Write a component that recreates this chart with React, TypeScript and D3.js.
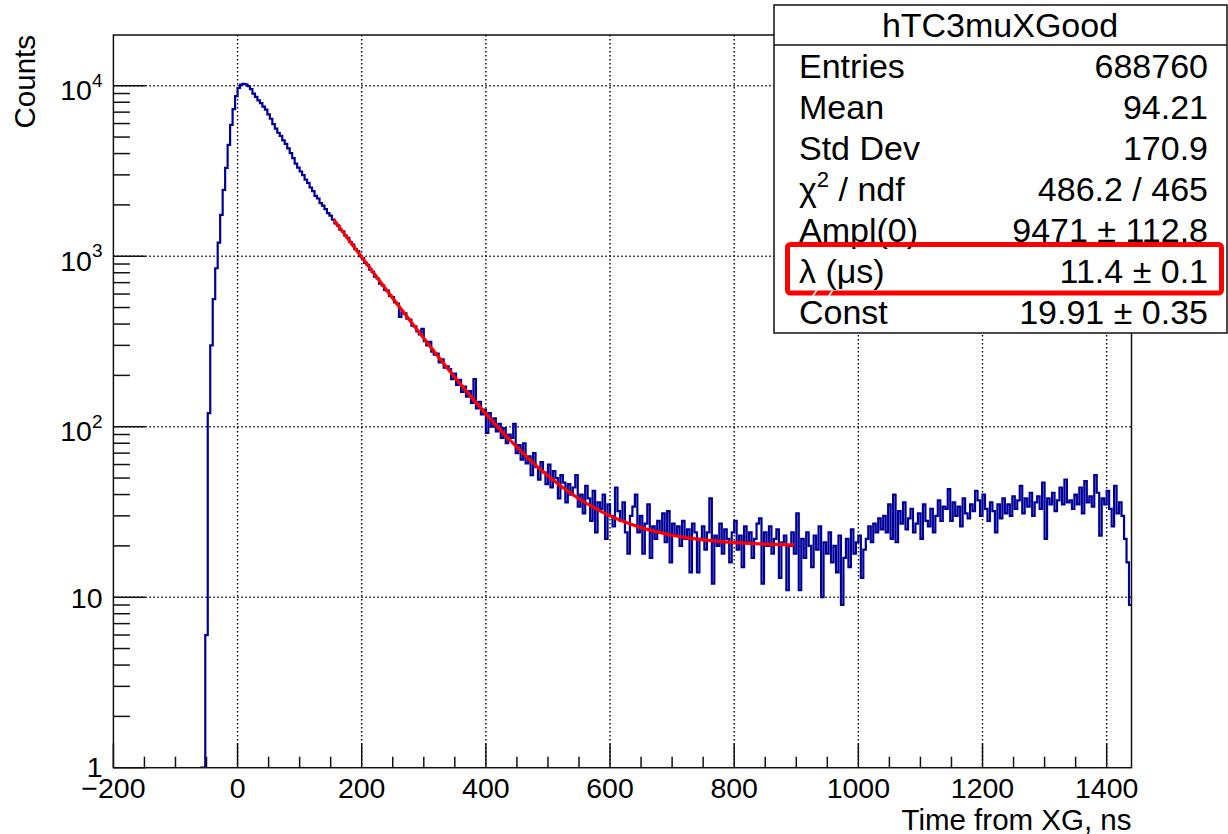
import * as d3 from "d3";
import { useEffect, useRef } from "react";

// histogram: 4 ns bins starting at -60 ns
const binStart = -60;
const binWidth = 4;
const counts = [
    0, 1, 6, 120, 300, 560, 850, 1200, 1750, 2450, 3300, 4500, 5900, 7300, 8700, 9700, 10150, 10250, 10200, 9950, 9550, 9000, 8600, 8200, 7900,
    7550, 7250, 6800, 6400, 5950, 5600, 5300, 5080, 4780, 4560, 4290, 4020, 3760, 3490, 3310, 3140, 2990, 2810, 2690, 2530, 2410, 2260, 2180, 2050, 1980,
    1890, 1790, 1730, 1640, 1560, 1510, 1430, 1400, 1320, 1280, 1210, 1170, 1100, 1070, 1000, 975, 915, 890, 835, 810, 760, 740, 690, 675, 635,
    628, 585, 575, 536, 528, 440, 468, 462, 430, 425, 392, 388, 362, 348, 375, 318, 300, 315, 276, 265, 268, 238, 248, 222, 226,
    218, 190, 205, 176, 188, 160, 172, 150, 162, 138, 190, 128, 140, 118, 126, 92, 120, 100, 112, 94, 104, 86, 98, 80, 90,
    86, 104, 70, 78, 64, 80, 61, 67, 52, 70, 58, 49, 62, 54, 46, 60, 44, 55, 50, 38, 52, 47, 36, 46, 40,
    44, 52, 34, 40, 31, 45, 38, 28, 42, 24, 36, 33, 40, 22, 35, 30, 26, 44, 32, 28, 36, 24, 18, 30, 34,
    40, 24, 30, 18, 27, 35, 17, 26, 22, 28, 24, 31, 21, 32, 16, 27, 23, 26, 20, 28, 22, 25, 14, 27, 24,
    14, 22, 26, 19, 24, 38, 12, 23, 20, 27, 18, 25, 22, 16, 24, 28, 19, 23, 15, 26, 21, 24, 17, 22, 27,
    29, 12, 24, 20, 26, 18, 22, 25, 13, 21, 23, 11, 20, 24, 18, 31, 11, 22, 17, 24, 20, 15, 23, 19, 26,
    10, 21, 18, 24, 16, 20, 14, 23, 9, 17, 22, 15, 25, 18, 21, 23, 13, 19, 22, 26, 21, 27, 24, 29, 25,
    30, 24, 35, 22, 40, 21, 32, 27, 36, 25, 29, 33, 24, 27, 31, 22, 35, 28, 26, 33, 24, 30, 37, 28, 34,
    33, 43, 28, 36, 30, 34, 26, 38, 31, 29, 35, 32, 42, 37, 30, 40, 33, 28, 36, 32, 24, 35, 29, 38, 31,
    35, 30, 39, 33, 37, 45, 31, 38, 34, 41, 30, 36, 39, 33, 47, 22, 38, 35, 41, 32, 37, 44, 35, 49, 36,
    37, 33, 40, 35, 44, 31, 48, 36, 39, 34, 52, 41, 23, 38, 35, 42, 33, 26, 45, 31, 36, 30, 22, 16, 9
];

// fit curve
const fitX = [155, 175, 200, 225, 250, 275, 300, 325, 350, 375, 400, 425, 450, 475, 500, 525, 550, 575, 600, 625, 650, 675, 700, 725, 750, 775, 800, 825, 850, 875, 897];
const fitY = [1638, 1308, 988, 748, 567, 432, 330, 253, 195, 152, 119, 94.3, 76, 62, 51.6, 43.7, 37.8, 33.4, 30, 27.5, 25.6, 24.2, 23.1, 22.3, 21.7, 21.3, 20.95, 20.7, 20.5, 20.35, 20.25];

const xMajorTicks = [-200, 0, 200, 400, 600, 800, 1000, 1200, 1400];
const yMajorTicks = [1, 10, 100, 1000, 10000];

const statsTitle = "hTC3muXGood";
const statsLabels = ["Entries", "Mean", "Std Dev", "χ2 / ndf", "Ampl(0)", "λ (μs)", "Const"];
const statsValues = ["688760", "94.21", "170.9", "486.2 / 465", "9471 ± 112.8", "11.4 ± 0.1", "19.91 ± 0.35"];

const FONT = "'Liberation Sans', Arial, Helvetica, sans-serif";

const App = () => {
    const chartRef = useRef(null);

    const width = 1228;
    const height = 834;
    const frame = { left: 113.4, right: 1131.5, top: 35, bottom: 767.7 };

    useEffect(() => {
        const svg = d3.select(chartRef.current);
        svg.selectAll("*").remove();

        const x = d3.scaleLinear().domain([-200, 1440]).range([frame.left, frame.right]);
        const y = d3.scaleLog().domain([1, 19840]).range([frame.bottom, frame.top]);

        svg.append("rect").attr("width", width).attr("height", height).attr("fill", "white");

        svg.append("defs").append("clipPath").attr("id", "frameClip")
            .append("rect")
            .attr("x", frame.left).attr("y", frame.top)
            .attr("width", frame.right - frame.left).attr("height", frame.bottom - frame.top);

        // grid
        const grid = svg.append("g")
            .attr("stroke", "#000")
            .attr("stroke-width", 1.4)
            .attr("stroke-dasharray", "1.4,2.6");
        xMajorTicks.filter(v => v > -200).forEach(v => {
            grid.append("line").attr("x1", x(v)).attr("x2", x(v)).attr("y1", frame.top).attr("y2", frame.bottom);
        });
        yMajorTicks.filter(v => v > 1).forEach(v => {
            grid.append("line").attr("x1", frame.left).attr("x2", frame.right).attr("y1", y(v)).attr("y2", y(v));
        });

        // histogram
        const pts = counts.map((c, i) => [binStart + i * binWidth, Math.max(c, 1)]);
        pts.push([binStart + counts.length * binWidth, Math.max(counts[counts.length - 1], 1)]);
        const histLine = d3.line()
            .x(d => x(d[0]))
            .y(d => y(d[1]))
            .curve(d3.curveStepAfter);
        svg.append("path")
            .attr("clip-path", "url(#frameClip)")
            .attr("d", histLine(pts))
            .attr("fill", "none")
            .attr("stroke", "#000099")
            .attr("stroke-width", 2.2);

        // fit
        const fitLine = d3.line()
            .x(d => x(d[0]))
            .y(d => y(d[1]))
            .curve(d3.curveMonotoneX);
        svg.append("path")
            .attr("clip-path", "url(#frameClip)")
            .attr("d", fitLine(fitX.map((v, i) => [v, fitY[i]])))
            .attr("fill", "none")
            .attr("stroke", "#ff0000")
            .attr("stroke-width", 3.2);

        // frame and ticks
        const axes = svg.append("g").attr("stroke", "#111").attr("stroke-width", 1.5);
        axes.append("rect")
            .attr("x", frame.left).attr("y", frame.top)
            .attr("width", frame.right - frame.left).attr("height", frame.bottom - frame.top)
            .attr("fill", "none");

        d3.range(-200, 1441, 50).forEach(v => {
            const major = v % 200 === 0;
            axes.append("line")
                .attr("x1", x(v)).attr("x2", x(v))
                .attr("y1", frame.bottom).attr("y2", frame.bottom - (major ? 24 : 11));
        });
        yMajorTicks.forEach(d => {
            axes.append("line")
                .attr("x1", frame.left).attr("x2", frame.left + 32)
                .attr("y1", y(d)).attr("y2", y(d));
            for (let k = 2; k <= 9; k++) {
                if (d * k > 19840) break;
                axes.append("line")
                    .attr("x1", frame.left).attr("x2", frame.left + 16.5)
                    .attr("y1", y(d * k)).attr("y2", y(d * k));
            }
        });

        // tick labels
        xMajorTicks.forEach(v => {
            svg.append("text")
                .attr("x", x(v)).attr("y", 798)
                .attr("text-anchor", "middle")
                .style("font-family", FONT).style("font-size", "28.5px")
                .text(v < 0 ? "\u2212" + Math.abs(v) : String(v));
        });
        yMajorTicks.forEach(v => {
            const exp = Math.round(Math.log10(v));
            const t = svg.append("text")
                .attr("x", 102.5)
                .attr("text-anchor", "end")
                .style("font-family", FONT).style("font-size", "28.5px");
            if (exp <= 1) {
                t.attr("y", y(v) + (exp === 0 ? 9 : 10.5)).text(String(v));
            } else {
                t.attr("y", y(v) + 14.5);
                t.append("tspan").text("10");
                t.append("tspan").attr("dy", -13.5).style("font-size", "19px").text(String(exp));
            }
        });

        // axis titles
        svg.append("text")
            .attr("x", frame.right).attr("y", 830)
            .attr("text-anchor", "end")
            .style("font-family", FONT).style("font-size", "29.5px")
            .text("Time from XG, ns");
        svg.append("text")
            .attr("transform", `translate(35, ${frame.top}) rotate(-90)`)
            .attr("text-anchor", "end")
            .style("font-family", FONT).style("font-size", "29.5px")
            .text("Counts");

        // stats box
        const box = { left: 774, top: 5, right: 1227, bottom: 333 };
        const stats = svg.append("g");
        stats.append("rect")
            .attr("x", box.left).attr("y", box.top)
            .attr("width", box.right - box.left).attr("height", box.bottom - box.top)
            .attr("fill", "white").attr("stroke", "#111").attr("stroke-width", 1.5);
        stats.append("line")
            .attr("x1", box.left).attr("x2", box.right)
            .attr("y1", 45).attr("y2", 45)
            .attr("stroke", "#111").attr("stroke-width", 1.5);
        stats.append("text")
            .attr("x", (box.left + box.right) / 2 - 0.5).attr("y", 37)
            .attr("text-anchor", "middle")
            .style("font-family", FONT).style("font-size", "34px")
            .text(statsTitle);

        const rowH = (box.bottom - 45) / statsLabels.length;
        statsLabels.forEach((label, i) => {
            const base = 45 + rowH * (i + 0.5) + 12;
            const lt = stats.append("text")
                .attr("x", 799).attr("y", base)
                .style("font-family", FONT).style("font-size", "34px");
            if (label.startsWith("χ2")) {
                lt.append("tspan").text("χ");
                lt.append("tspan").attr("dy", -14).style("font-size", "22px").text("2");
                lt.append("tspan").attr("dy", 14).text(" / ndf");
            } else {
                lt.text(label);
            }
            stats.append("text")
                .attr("x", 1208).attr("y", base)
                .attr("text-anchor", "end")
                .style("font-family", FONT).style("font-size", "34px")
                .text(statsValues[i]);
        });

        // highlight around the lambda row
        svg.append("rect")
            .attr("x", 787.5).attr("y", 244.5)
            .attr("width", 434).attr("height", 48.5)
            .attr("rx", 3)
            .attr("fill", "none")
            .attr("stroke", "#ff0000")
            .attr("stroke-width", 5);
        [[812, 297, 817, 290], [828, 297, 833, 290]].forEach(s => {
            svg.append("line")
                .attr("x1", s[0]).attr("y1", s[1]).attr("x2", s[2]).attr("y2", s[3])
                .attr("stroke", "white").attr("stroke-width", 1.5);
        });
    }, []);

    return (
        <svg ref={chartRef} width={width} height={height}
            style={{ position: "absolute", left: 0, top: 0, display: "block" }}></svg>
    );
};

export default App;
